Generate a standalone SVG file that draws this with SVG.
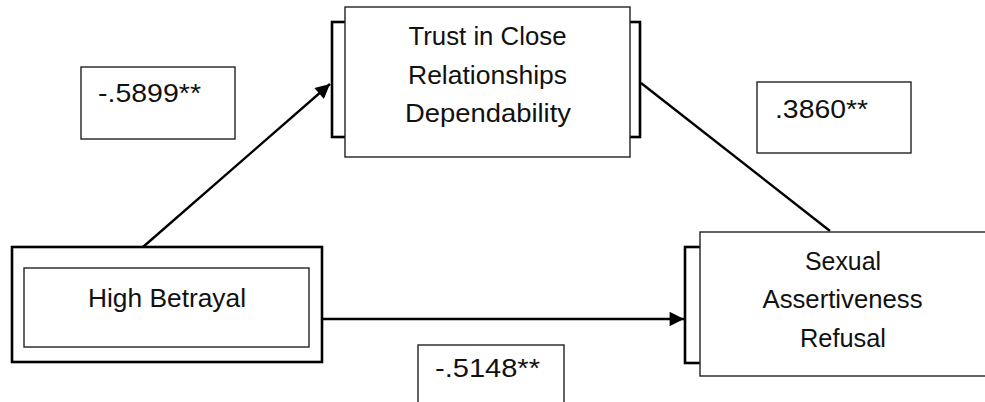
<svg xmlns="http://www.w3.org/2000/svg" width="985" height="402" viewBox="0 0 985 402">
<style>
text{font-family:"Liberation Sans",Arial,sans-serif;font-size:25px;fill:#111}
.box{fill:#fff;stroke:#222;stroke-width:1.4}
.thick{fill:#fff;stroke:#000;stroke-width:2.6}
.conn{stroke:#000;stroke-width:2.4;fill:none}
</style>
<defs>
<marker id="ah" viewBox="0 0 10 10" refX="10" refY="5" markerWidth="6.5" markerHeight="6" markerUnits="strokeWidth" orient="auto">
<path d="M0,0 L10,5 L0,10 z" fill="#000"/>
</marker>
</defs>
<rect width="985" height="402" fill="#fff"/>
<g id="connectors">
<line class="conn" x1="143" y1="247" x2="330" y2="84" marker-end="url(#ah)"/>
<line class="conn" x1="322" y1="319" x2="684" y2="319" marker-end="url(#ah)"/>
<line class="conn" x1="641" y1="83" x2="830" y2="231"/>
</g>
<g id="trust">
<rect class="thick" x="332" y="22" width="308" height="115"/>
<rect class="box" x="345" y="7" width="285" height="150"/>
<text x="487.5" y="45" text-anchor="middle" textLength="158" lengthAdjust="spacingAndGlyphs">Trust in Close</text>
<text x="487.5" y="84" text-anchor="middle" textLength="159" lengthAdjust="spacingAndGlyphs">Relationships</text>
<text x="488" y="122" text-anchor="middle" textLength="166" lengthAdjust="spacingAndGlyphs">Dependability</text>
</g>
<g id="betrayal">
<rect class="thick" x="12" y="247" width="310" height="115"/>
<rect class="box" x="24" y="268" width="285" height="79"/>
<text x="167" y="307" text-anchor="middle" textLength="158" lengthAdjust="spacingAndGlyphs">High Betrayal</text>
</g>
<g id="sexual">
<rect class="thick" x="685" y="247" width="40" height="116"/>
<rect class="box" x="700" y="232" width="300" height="144"/>
<text x="843" y="270" text-anchor="middle" textLength="76" lengthAdjust="spacingAndGlyphs">Sexual</text>
<text x="842.5" y="308" text-anchor="middle" textLength="160" lengthAdjust="spacingAndGlyphs">Assertiveness</text>
<text x="843" y="347" text-anchor="middle" textLength="86" lengthAdjust="spacingAndGlyphs">Refusal</text>
</g>
<g id="label1">
<rect class="box" x="81" y="67" width="154" height="72"/>
<text x="98" y="102" textLength="103" lengthAdjust="spacingAndGlyphs">-.5899**</text>
</g>
<g id="label2">
<rect class="box" x="757" y="82" width="154" height="71"/>
<text x="775" y="118" textLength="93" lengthAdjust="spacingAndGlyphs">.3860**</text>
</g>
<g id="label3">
<rect class="box" x="418" y="345" width="146" height="70"/>
<text x="435" y="377" textLength="105" lengthAdjust="spacingAndGlyphs">-.5148**</text>
</g>
</svg>
